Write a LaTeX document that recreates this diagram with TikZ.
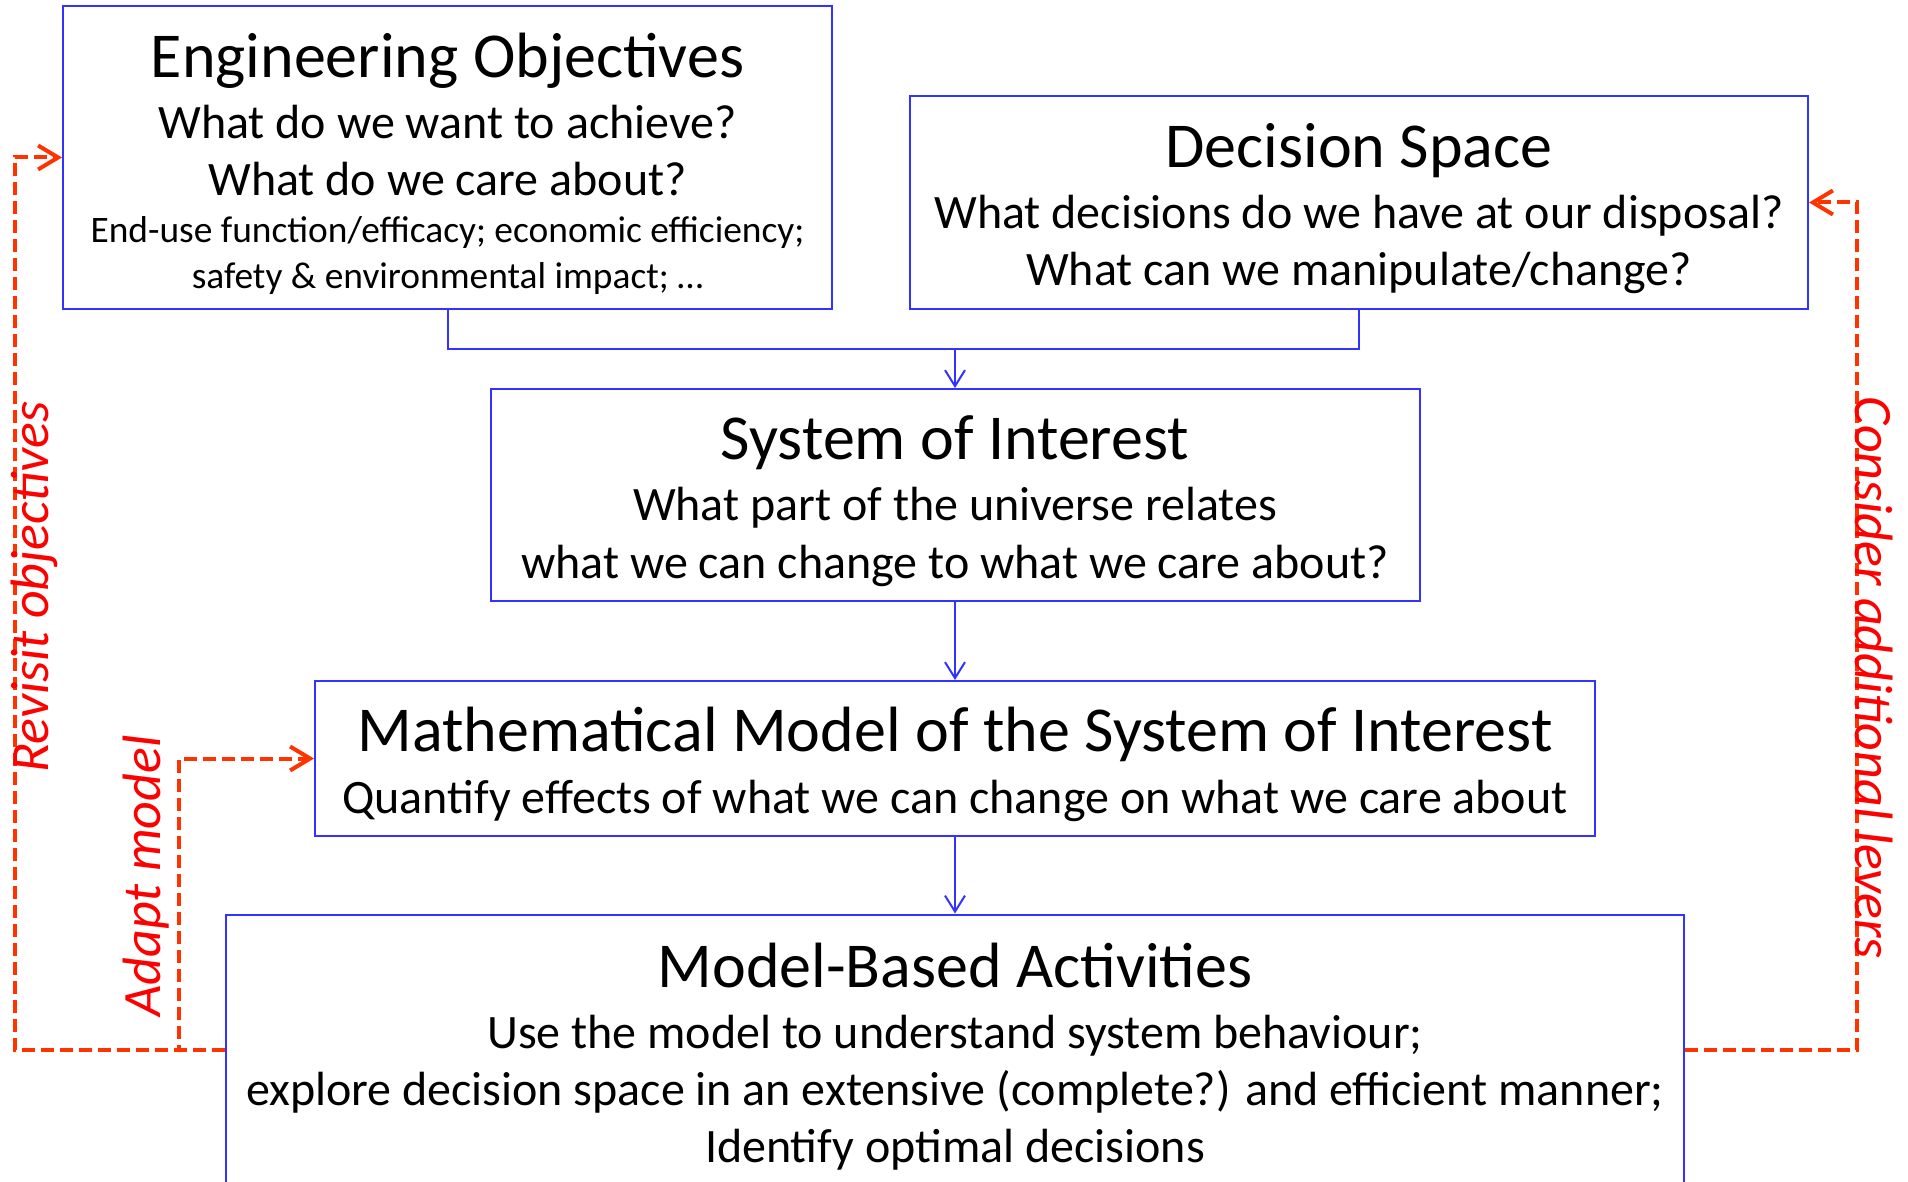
\documentclass[tikz,border=0pt]{standalone}
\usepackage{fontspec}
\setmainfont{Carlito}
\usepackage{xcolor}
\definecolor{cBox}{HTML}{3333FF}
\definecolor{cLoop}{HTML}{FF3300}
\definecolor{cNote}{HTML}{FF0000}
\usepackage{tikz}
\usetikzlibrary{arrows.meta,calc}
\newcommand{\ttlfont}{\fontsize{32}{38}\selectfont}
\newcommand{\bodyfont}{\fontsize{24}{28.6}\selectfont}
\newcommand{\smlfont}{\fontsize{18.7}{22.5}\selectfont}
\tikzset{
  node-box/.style={draw=cBox,line width=1pt,inner sep=0pt},
  box-text/.style={align=center,inner sep=0pt,font=\bodyfont},
  arrow/.style={-{Straight Barb[length=8pt,width=10pt]},line width=1pt,draw=cBox},
  arrow-loop/.style={-{Straight Barb[length=10pt,width=12pt]},line width=2pt,
    draw=cLoop,dash pattern=on 6.5pt off 3pt},
  loop-note/.style={text=cNote,font=\fontsize{27}{32}\selectfont\itshape},
}
\begin{document}
\begin{tikzpicture}[x=1pt,y=-1pt]
  \useasboundingbox (0,0) rectangle (954,591);
  % boxes
  \node[node-box,minimum width=384.5pt,minimum height=151.5pt] (obj) at (223.75,78.75) {};
  \node[box-text] (obj-text) at ([yshift=-3pt]obj.center)
    {{\ttlfont Engineering Objectives}\\[2pt]
     What do we want to achieve?\\
     What do we care about?\\[-5.3pt]
     {\smlfont End-use function/efficacy; economic efficiency;}\\[-5.4pt]
     {\smlfont safety \& environmental impact; …}};
  \node[node-box,minimum width=449pt,minimum height=106.5pt] (dec) at (679.5,101.25) {};
  \node[box-text] (dec-text) at ([yshift=-3pt]dec.center)
    {{\ttlfont Decision Space}\\[2pt]
     What decisions do we have at our disposal?\\
     What can we manipulate/change?};
  \node[node-box,minimum width=464.5pt,minimum height=106pt] (sys) at (477.5,247.5) {};
  \node[box-text] (sys-text) at ([yshift=-3pt]sys.center)
    {{\ttlfont System of Interest}\\[2pt]
     What part of the universe relates\\
     what we can change to what we care about?};
  \node[node-box,minimum width=640pt,minimum height=77.5pt] (mod) at (477.5,379.25) {};
  \node[box-text] (mod-text) at ([yshift=-3pt]mod.center)
    {{\ttlfont Mathematical Model of the System of Interest}\\[2pt]
     Quantify effects of what we can change on what we care about};
  \node[node-box,minimum width=729pt,minimum height=141pt] (act) at (477.5,527.75) {};
  \node[box-text] (act-text) at ([yshift=-0.5pt]act.center)
    {{\ttlfont Model-Based Activities}\\[2pt]
     Use the model to understand system behaviour;\\
     explore decision space in an extensive (complete?) and efficient manner;\\
     Identify optimal decisions};
  % main flow
  \coordinate (join) at (477.5,174.5);
  \draw[cBox,line width=1pt] (obj.south) |- (join) -| (dec.south);
  \draw[arrow] (join) -- (sys.north);
  \draw[arrow] (sys.south) -- (mod.north);
  \draw[arrow] (mod.south) -- (act.north);
  % feedback loops
  \coordinate (act-l) at ([yshift=3pt]act.west);
  \coordinate (act-r) at ([yshift=3pt]act.east);
  \coordinate (outer) at (7.5,0);
  \coordinate (inner) at (89.5,0);
  \coordinate (right) at (928.5,0);
  \draw[arrow-loop] (act-l) -- (act-l -| outer) -- (obj.west -| outer) -- (obj.west);
  \draw[arrow-loop] (act-l) -- (act-l -| inner) -- (mod.west -| inner) -- (mod.west);
  \draw[arrow-loop] (act-r) -- (act-r -| right) -- (dec.east -| right) -- (dec.east);
  \node[loop-note,rotate=90]  (revisit) at (17,293.5) {Revisit objectives};
  \node[loop-note,rotate=90]  (adapt)   at (73,438)   {Adapt model};
  \node[loop-note,rotate=-90] (levers)  at (937,339)  {Consider additional levers};
\end{tikzpicture}
\end{document}
